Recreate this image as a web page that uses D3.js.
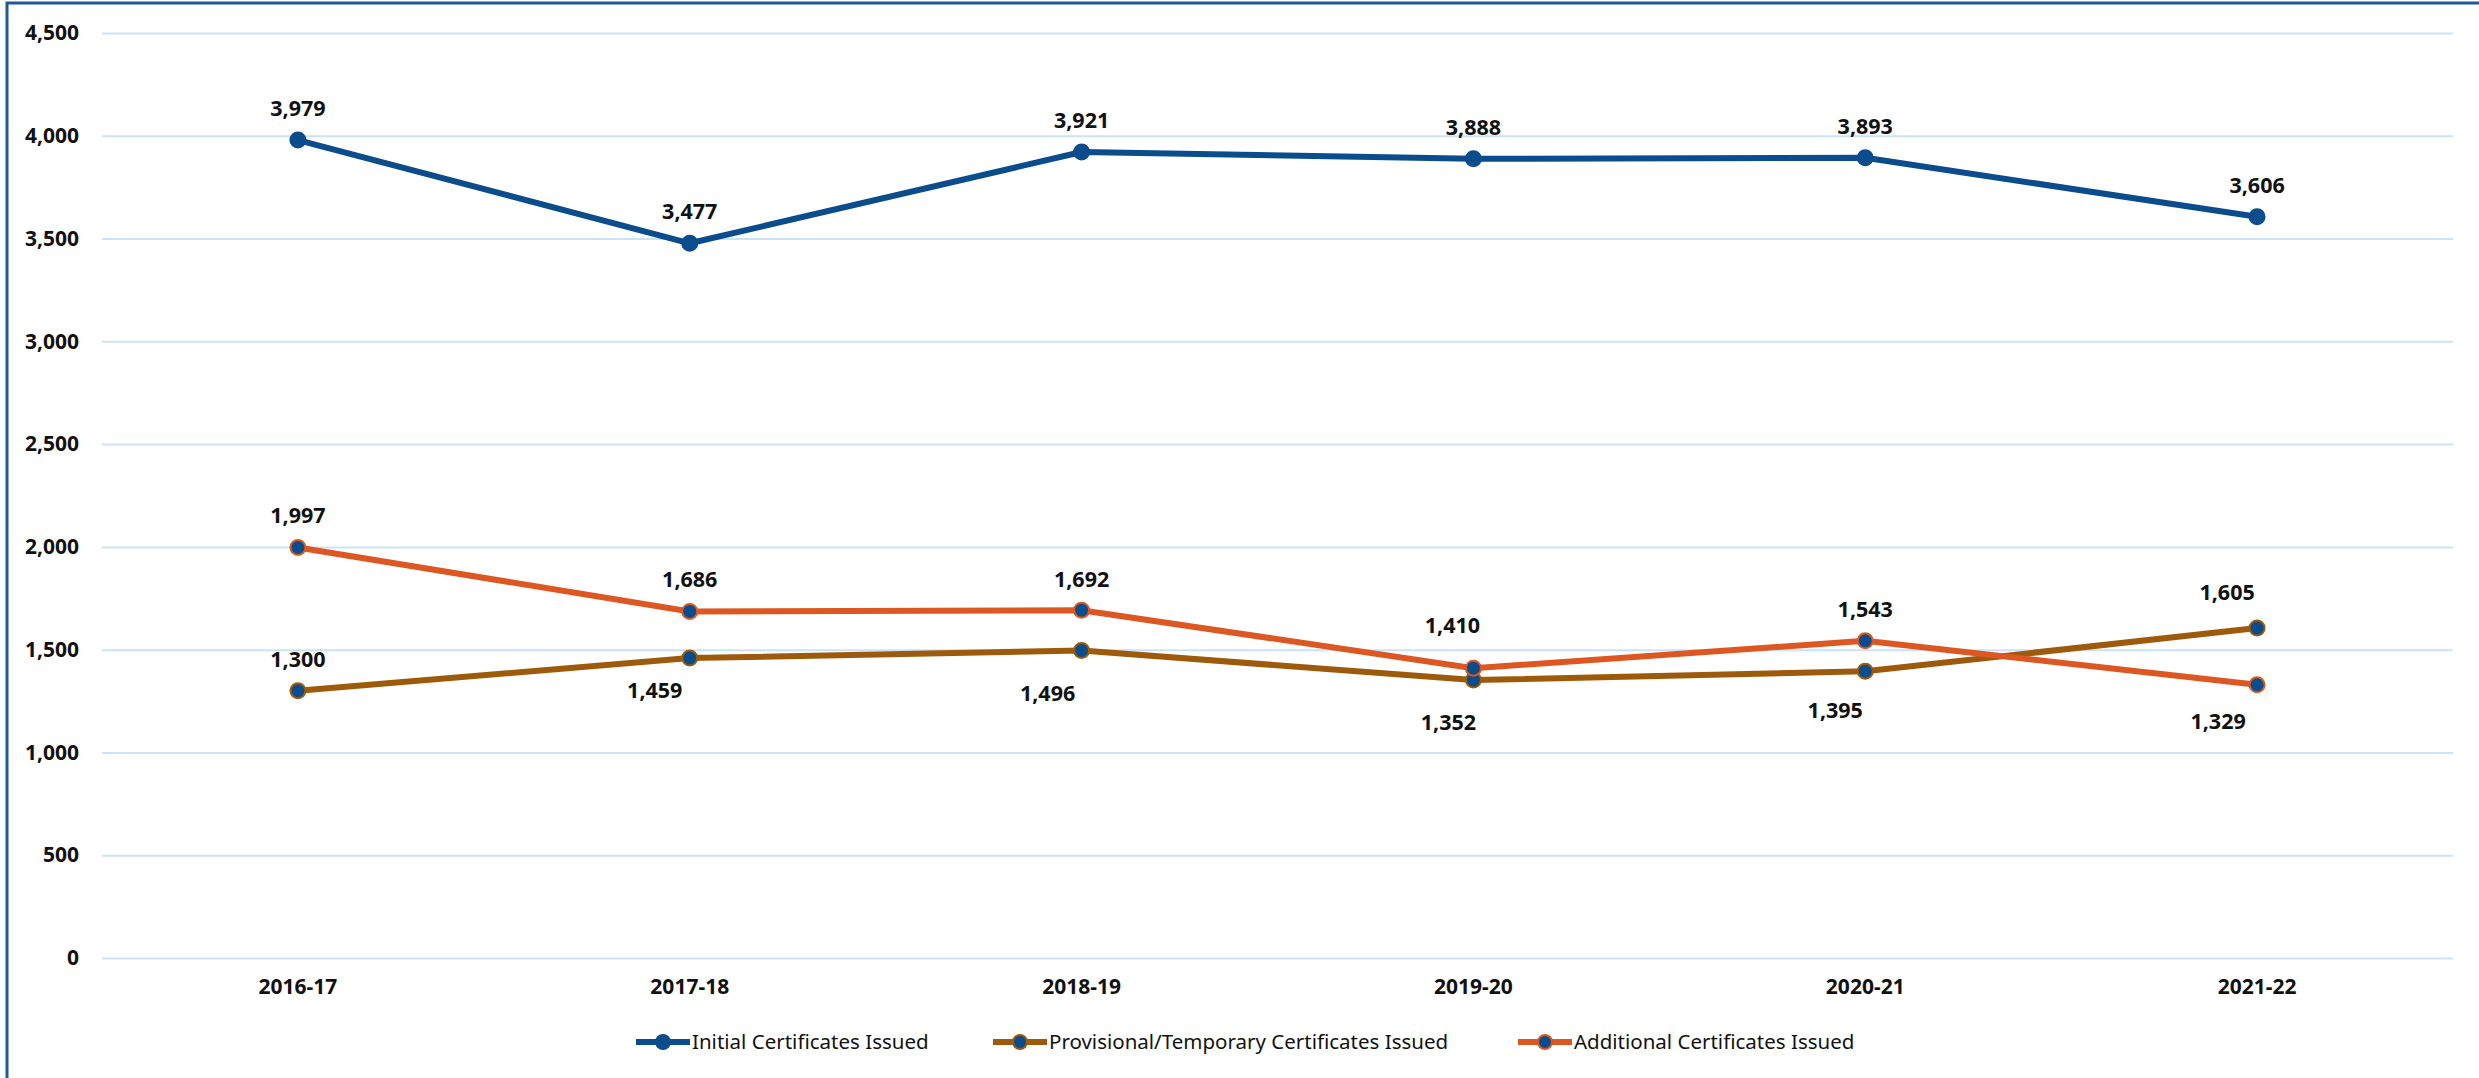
<!DOCTYPE html>
<html>
<head>
<meta charset="utf-8">
<script src="https://cdn.jsdelivr.net/npm/d3@7"></script>
<style>
  body { margin: 0; background: #fff; }
  svg { display: block; }
</style>
</head>
<body>
<svg id="chart" width="2479" height="1078"></svg>
<script>
// data
const years = ["2016-17", "2017-18", "2018-19", "2019-20", "2020-21", "2021-22"];
const initialIssued = [3979, 3477, 3921, 3888, 3893, 3606];
const provisionalIssued = [1300, 1459, 1496, 1352, 1395, 1605];
const additionalIssued = [1997, 1686, 1692, 1410, 1543, 1329];
const yTicks = [0, 500, 1000, 1500, 2000, 2500, 3000, 3500, 4000, 4500];

// label placement (dx, dy from the point), matched to the reference
const initialLabelPos = [[0, -32], [0, -32], [0, -32], [0, -32], [0, -32], [0, -32]];
const provisionalLabelPos = [[0, -32], [-35, 32], [-34, 43], [-25, 42], [-30, 39], [-30, -36]];
const additionalLabelPos = [[0, -32], [0, -32], [0, -31], [-21, -43], [0, -32], [-39, 36]];

const series = [
    { name: "Initial Certificates Issued", values: initialIssued, color: "#0b4c8c", labels: initialLabelPos },
    { name: "Provisional/Temporary Certificates Issued", values: provisionalIssued, color: "#9e5a0b", labels: provisionalLabelPos },
    { name: "Additional Certificates Issued", values: additionalIssued, color: "#dc5721", labels: additionalLabelPos }
];

const markerFill = "#0b4c8c";
const font = "'Noto Sans', 'DejaVu Sans', sans-serif";

const svg = d3.select("#chart");

// outer frame (right and bottom edges are cut off in the reference)
svg.append("rect")
    .attr("x", 7).attr("y", 3)
    .attr("width", 2600).attr("height", 1200)
    .attr("fill", "none")
    .attr("stroke", "#1f5a96")
    .attr("stroke-width", 3);

const plotLeft = 102, plotRight = 2453, plotTop = 33, plotBottom = 958;

const x = d3.scaleBand().domain(years).range([plotLeft, plotRight]);
const y = d3.scaleLinear().domain([0, 4500]).range([plotBottom, plotTop]);

// y axis + gridlines
const yAxis = svg.append("g")
    .attr("transform", `translate(${plotLeft},0)`)
    .call(d3.axisLeft(y).tickValues(yTicks).tickSize(-(plotRight - plotLeft)).tickPadding(23)
        .tickFormat(d3.format(",")));
yAxis.select(".domain").remove();
yAxis.selectAll(".tick line").attr("stroke", "#cbe3f8").attr("stroke-width", 2);
yAxis.selectAll(".tick text")
    .attr("font-family", font).attr("font-size", 21).attr("font-weight", "bold").attr("fill", "#111");

// x axis labels
const xAxis = svg.append("g")
    .attr("transform", `translate(0,${plotBottom})`)
    .call(d3.axisBottom(x).tickSize(0).tickPadding(21));
xAxis.select(".domain").remove();
xAxis.selectAll(".tick text")
    .attr("font-family", font).attr("font-size", 21).attr("font-weight", "bold").attr("fill", "#111");

const cx = d => x(d) + x.bandwidth() / 2;

const line = d3.line()
    .x((d, i) => cx(years[i]))
    .y(d => y(d));

series.forEach(s => {
    const g = svg.append("g");
    g.append("path")
        .datum(s.values)
        .attr("d", line)
        .attr("fill", "none")
        .attr("stroke", s.color)
        .attr("stroke-width", 6)
        .attr("stroke-linejoin", "round");

    g.selectAll("circle")
        .data(s.values)
        .join("circle")
        .attr("cx", (d, i) => cx(years[i]))
        .attr("cy", d => y(d))
        .attr("r", 7.5)
        .attr("fill", markerFill)
        .attr("stroke", s.color)
        .attr("stroke-width", 2);
});

// data labels drawn last so they sit on top
series.forEach(s => {
    svg.append("g").selectAll("text")
        .data(s.values)
        .join("text")
        .attr("x", (d, i) => cx(years[i]) + s.labels[i][0])
        .attr("y", (d, i) => y(d) + s.labels[i][1])
        .attr("dy", "0.36em")
        .attr("text-anchor", "middle")
        .attr("font-family", font)
        .attr("font-size", 21.5)
        .attr("font-weight", "bold")
        .attr("fill", "#111")
        .text(d => d3.format(",")(d));
});

// legend
const legendX = [636, 993, 1518];
const legendY = 1042;
const legend = svg.append("g");
series.forEach((s, i) => {
    const item = legend.append("g").attr("transform", `translate(${legendX[i]},${legendY})`);
    item.append("line")
        .attr("x1", 0).attr("x2", 54)
        .attr("stroke", s.color).attr("stroke-width", 6);
    item.append("circle")
        .attr("cx", 27).attr("r", 7)
        .attr("fill", markerFill)
        .attr("stroke", s.color).attr("stroke-width", 2);
    item.append("text")
        .attr("x", 56).attr("dy", "0.35em")
        .attr("font-family", font).attr("font-size", 20.5)
        .attr("fill", "#111")
        .text(s.name);
});
</script>
</body>
</html>
